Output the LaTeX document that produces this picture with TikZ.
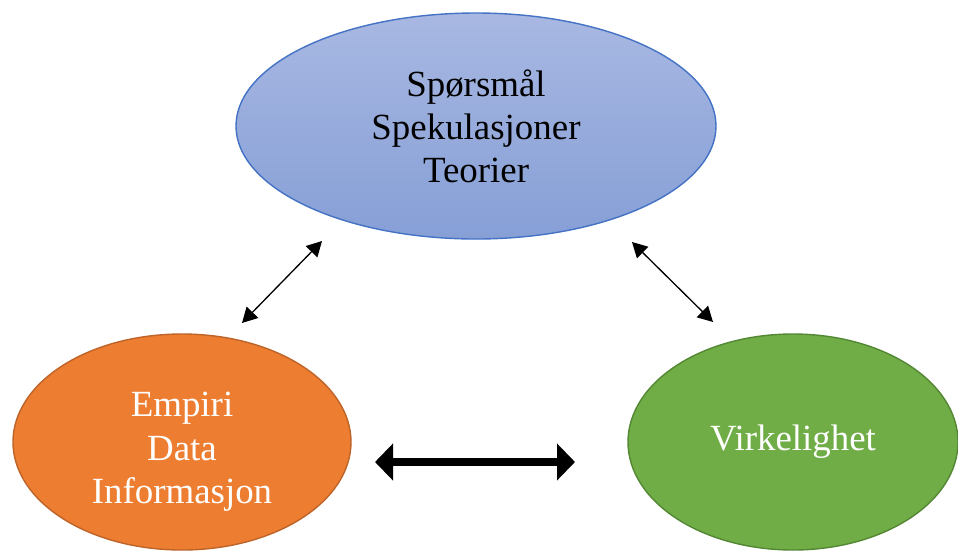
\documentclass[tikz,border=0pt]{standalone}
\usepackage{fontspec}
\setmainfont{Liberation Serif}
\usepackage{xcolor}
\usepackage{tikz}
\usetikzlibrary{arrows.meta,positioning,shapes.geometric}

\definecolor{blueTop}{RGB}{168,184,226}
\definecolor{blueBot}{RGB}{134,159,214}
\definecolor{blueLine}{RGB}{68,114,196}
\definecolor{orangeFill}{RGB}{237,125,49}
\definecolor{orangeLine}{RGB}{190,100,40}
\definecolor{greenFill}{RGB}{112,173,71}
\definecolor{greenLine}{RGB}{84,135,52}

\tikzset{
    bubble/.style={ellipse, draw, thick, align=center, inner sep=0pt,
                   font=\fontsize{21}{24.5}\selectfont},
    thin link/.style={{Triangle[length=0.3cm,width=0.32cm]}-{Triangle[length=0.3cm,width=0.32cm]},
                      line width=0.75pt},
    fat link/.style={{Triangle[length=0.36cm,width=0.72cm]}-{Triangle[length=0.36cm,width=0.72cm]},
                     line width=0.17cm}
}

\begin{document}
\begin{tikzpicture}
                \useasboundingbox (0,0) rectangle (19.16,-11.1);

                \node [bubble, draw=blueLine, shading=axis,
                        top color=blueTop, bottom color=blueBot,
                        minimum width=9.6cm, minimum height=4.52cm]
                                        (teori) at (9.52,-2.52)
                                        {Spørsmål\\Spekulasjoner\\Teorier};
                \node [bubble, draw=orangeLine, fill=orangeFill, text=white,
                        minimum width=6.76cm, minimum height=4.32cm]
                                        (empiri) at (3.64,-8.84)
                                        {\rule{0pt}{25pt}Empiri\\Data\\Informasjon};
                \node [bubble, draw=greenLine, fill=greenFill, text=white,
                        minimum width=6.6cm, minimum height=4.32cm]
                                        (virk) at (15.86,-8.84)
                                        {Virkelighet};

                \coordinate (e1) at (4.84,-6.46);
                \coordinate (t1) at (6.44,-4.82);
                \coordinate (t2) at (12.64,-4.84);
                \coordinate (v1) at (14.26,-6.44);
                \coordinate (e2) at (7.5,-9.24);
                \coordinate (v2) at (11.5,-9.24);

                \draw [thin link] (e1) -- (t1);
                \draw [thin link] (t2) -- (v1);
                \draw [fat link] (e2) -- (v2);
\end{tikzpicture}
\end{document}
